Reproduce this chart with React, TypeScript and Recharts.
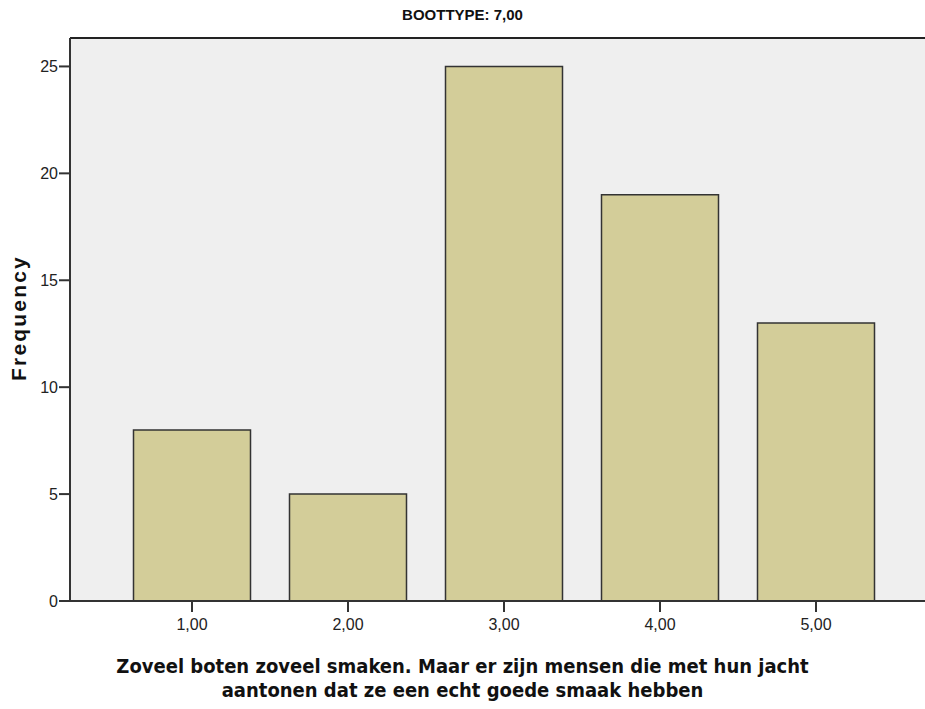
import { BarChart, Bar, XAxis, YAxis, CartesianGrid, ReferenceLine } from 'recharts'

const CATEGORIES = ['1,00', '2,00', '3,00', '4,00', '5,00']
const FREQUENCY = [8, 5, 25, 19, 13]
const Y_TICKS = [0, 5, 10, 15, 20, 25]

const data = CATEGORIES.map((cat, i) => ({ cat, freq: FREQUENCY[i] }))

const sans = '"Liberation Sans", Arial, sans-serif'
const bold = '"DejaVu Sans Condensed", "DejaVu Sans", sans-serif'

export default function App() {
  return (
    <div style={{ position: 'absolute', left: 0, top: 0, width: 925, height: 709, background: '#fff' }}>
      <div
        style={{
          position: 'absolute',
          left: 0,
          width: 925,
          top: 6,
          textAlign: 'center',
          fontFamily: sans,
          fontWeight: 'bold',
          fontSize: 15,
          color: '#111',
        }}
      >
        BOOTTYPE: 7,00
      </div>
      <div
        style={{
          position: 'absolute',
          left: 19,
          top: 318,
          transform: 'translate(-50%, -50%) rotate(-90deg)',
          fontFamily: sans,
          fontWeight: 'bold',
          fontSize: 21,
          letterSpacing: 2.2,
          color: '#111',
          whiteSpace: 'nowrap',
        }}
      >
        Frequency
      </div>
      <div
        style={{
          position: 'absolute',
          left: 0,
          width: 925,
          top: 654,
          textAlign: 'center',
          fontFamily: bold,
          fontWeight: 'bold',
          fontSize: 20,
          lineHeight: '24px',
          color: '#111',
        }}
      >
        Zoveel boten zoveel smaken. Maar er zijn mensen die met hun jacht
        <br />
        aantonen dat ze een echt goede smaak hebben
      </div>
      <div style={{ position: 'absolute', left: 0, top: 0 }}>
        <BarChart
          width={925}
          height={709}
          data={data}
          margin={{ top: 38, right: 0, bottom: 78, left: 30 }}
          barCategoryGap="12.5%"
        >
          <CartesianGrid fill="#efefef" horizontal={false} vertical={false} />
          <XAxis
            dataKey="cat"
            height={30}
            padding={{ left: 44, right: 31 }}
            tickSize={11}
            tickLine={{ stroke: '#333', strokeWidth: 2 }}
            axisLine={{ stroke: '#333', strokeWidth: 2 }}
            tick={{ fontSize: 16, fill: '#222', fontFamily: sans }}
            tickMargin={7}
          />
          <YAxis
            width={40}
            domain={[0, 26.33]}
            ticks={Y_TICKS}
            allowDataOverflow
            tickSize={11}
            tickLine={{ stroke: '#333', strokeWidth: 2 }}
            axisLine={{ stroke: '#333', strokeWidth: 2 }}
            tick={{ fontSize: 16, fill: '#222', fontFamily: sans }}
            tickMargin={1}
          />
          <ReferenceLine y={26.33} stroke="#222" strokeWidth={2} ifOverflow="extendDomain" />
          <Bar dataKey="freq" fill="#d3cd99" stroke="#333" strokeWidth={1.5} isAnimationActive={false} />
        </BarChart>
      </div>
    </div>
  )
}
